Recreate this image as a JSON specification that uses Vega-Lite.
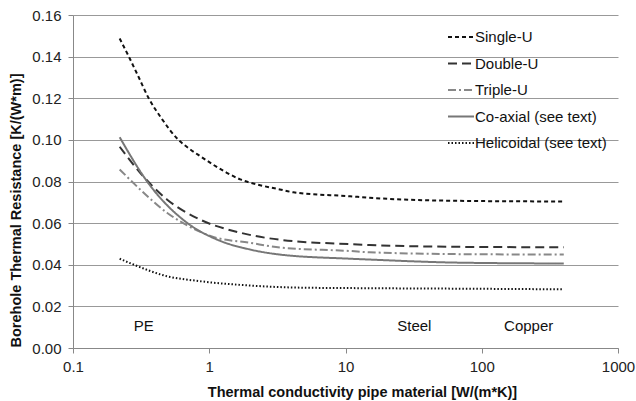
{
  "$schema": "https://vega.github.io/schema/vega-lite/v6.json",
  "width": 545,
  "height": 333,
  "autosize": {"type": "none"},
  "padding": {"left": 73, "top": 15, "right": 18, "bottom": 53},
  "background": "white",
  "config": {
    "view": {"stroke": null},
    "font": "Liberation Sans",
    "axis": {"labelFont": "Liberation Sans", "titleFont": "Liberation Sans", "labelFontSize": 15, "titleFontSize": 14.5, "labelColor": "#222", "titleColor": "#111", "domainColor": "#888", "tickColor": "#888", "gridColor": "#999", "tickSize": 5, "labelPadding": 6, "labelFlush": false}
  },
  "layer": [
    {
      "data": {"values": [
        {"series": "Single-U", "k": 0.22, "R": 0.1487},
        {"series": "Single-U", "k": 0.256, "R": 0.1402},
        {"series": "Single-U", "k": 0.3, "R": 0.1308},
        {"series": "Single-U", "k": 0.358, "R": 0.1202},
        {"series": "Single-U", "k": 0.45, "R": 0.1100},
        {"series": "Single-U", "k": 0.594, "R": 0.1000},
        {"series": "Single-U", "k": 0.726, "R": 0.0954},
        {"series": "Single-U", "k": 0.857, "R": 0.0922},
        {"series": "Single-U", "k": 1.346, "R": 0.0842},
        {"series": "Single-U", "k": 1.69, "R": 0.0810},
        {"series": "Single-U", "k": 2.23, "R": 0.0786},
        {"series": "Single-U", "k": 3.3, "R": 0.0762},
        {"series": "Single-U", "k": 4.14, "R": 0.0748},
        {"series": "Single-U", "k": 10.8, "R": 0.0729},
        {"series": "Single-U", "k": 15, "R": 0.0722},
        {"series": "Single-U", "k": 69, "R": 0.0707},
        {"series": "Single-U", "k": 400, "R": 0.0704},
        {"series": "Double-U", "k": 0.22, "R": 0.0967},
        {"series": "Double-U", "k": 0.311, "R": 0.0842},
        {"series": "Double-U", "k": 0.489, "R": 0.0714},
        {"series": "Double-U", "k": 0.857, "R": 0.0617},
        {"series": "Double-U", "k": 1.69, "R": 0.0554},
        {"series": "Double-U", "k": 3.3, "R": 0.0520},
        {"series": "Double-U", "k": 10.8, "R": 0.0499},
        {"series": "Double-U", "k": 15, "R": 0.0495},
        {"series": "Double-U", "k": 69, "R": 0.0486},
        {"series": "Double-U", "k": 400, "R": 0.0484},
        {"series": "Triple-U", "k": 0.22, "R": 0.0858},
        {"series": "Triple-U", "k": 0.33, "R": 0.0746},
        {"series": "Triple-U", "k": 0.489, "R": 0.0650},
        {"series": "Triple-U", "k": 0.61, "R": 0.0609},
        {"series": "Triple-U", "k": 1.07, "R": 0.0534},
        {"series": "Triple-U", "k": 2.0, "R": 0.0505},
        {"series": "Triple-U", "k": 3.3, "R": 0.0483},
        {"series": "Triple-U", "k": 10.8, "R": 0.0466},
        {"series": "Triple-U", "k": 15, "R": 0.0460},
        {"series": "Triple-U", "k": 69, "R": 0.0451},
        {"series": "Triple-U", "k": 400, "R": 0.0449},
        {"series": "Co-axial (see text)", "k": 0.22, "R": 0.1013},
        {"series": "Co-axial (see text)", "k": 0.35, "R": 0.0800},
        {"series": "Co-axial (see text)", "k": 0.686, "R": 0.0602},
        {"series": "Co-axial (see text)", "k": 1.14, "R": 0.0521},
        {"series": "Co-axial (see text)", "k": 2.0, "R": 0.0473},
        {"series": "Co-axial (see text)", "k": 3.3, "R": 0.0449},
        {"series": "Co-axial (see text)", "k": 10.8, "R": 0.0429},
        {"series": "Co-axial (see text)", "k": 15, "R": 0.0425},
        {"series": "Co-axial (see text)", "k": 69, "R": 0.0410},
        {"series": "Co-axial (see text)", "k": 400, "R": 0.0406},
        {"series": "Helicoidal (see text)", "k": 0.22, "R": 0.0429},
        {"series": "Helicoidal (see text)", "k": 0.278, "R": 0.0401},
        {"series": "Helicoidal (see text)", "k": 0.489, "R": 0.0345},
        {"series": "Helicoidal (see text)", "k": 0.857, "R": 0.0321},
        {"series": "Helicoidal (see text)", "k": 2.0, "R": 0.0300},
        {"series": "Helicoidal (see text)", "k": 4.6, "R": 0.0290},
        {"series": "Helicoidal (see text)", "k": 10, "R": 0.0288},
        {"series": "Helicoidal (see text)", "k": 69, "R": 0.0285},
        {"series": "Helicoidal (see text)", "k": 400, "R": 0.0282}
      ]},
      "mark": {"type": "line", "strokeWidth": 2, "interpolate": "monotone"},
      "encoding": {
        "x": {"field": "k", "type": "quantitative",
          "scale": {"type": "log", "domain": [0.1, 1000], "nice": false},
          "axis": {"values": [0.1, 1, 10, 100, 1000], "format": "~g", "grid": false, "title": "Thermal conductivity pipe material [W/(m*K)]", "titleX": 289, "titleY": 37}},
        "y": {"field": "R", "type": "quantitative",
          "scale": {"domain": [0, 0.16], "nice": false},
          "axis": {"values": [0, 0.02, 0.04, 0.06, 0.08, 0.1, 0.12, 0.14, 0.16], "format": ".2f", "grid": true, "labelPadding": 7, "title": "Borehole Thermal Resistance [K/(W*m)]", "titleX": -50, "titleY": 195}},
        "color": {"field": "series", "type": "nominal",
          "scale": {"domain": ["Single-U", "Double-U", "Triple-U", "Co-axial (see text)", "Helicoidal (see text)"], "range": ["#111111", "#333333", "#888888", "#777777", "#111111"]},
          "legend": {"title": null, "orient": "none", "legendX": 374, "legendY": 8, "padding": 0, "symbolType": "stroke", "symbolSize": 676, "symbolStrokeWidth": 2, "rowPadding": 4.5, "labelFontSize": 15, "labelFont": "Liberation Sans", "labelColor": "#111", "labelOffset": 0}},
        "strokeDash": {"field": "series", "type": "nominal",
          "scale": {"domain": ["Single-U", "Double-U", "Triple-U", "Co-axial (see text)", "Helicoidal (see text)"], "range": [[4, 3], [9, 5], [8, 3, 2, 3], [1, 0], [1.5, 2]]},
          "legend": {"title": null, "orient": "none", "legendX": 374, "legendY": 8, "padding": 0, "symbolType": "stroke", "symbolSize": 676, "symbolStrokeWidth": 2, "rowPadding": 4.5, "labelFontSize": 15, "labelFont": "Liberation Sans", "labelColor": "#111", "labelOffset": 0}}
      }
    },
    {
      "data": {"values": [
        {"label": "PE", "k": 0.33, "R": 0.0105},
        {"label": "Steel", "k": 32, "R": 0.0105},
        {"label": "Copper", "k": 221, "R": 0.0105}
      ]},
      "mark": {"type": "text", "fontSize": 15, "font": "Liberation Sans", "color": "#111", "align": "center", "baseline": "middle"},
      "encoding": {
        "x": {"field": "k", "type": "quantitative"},
        "y": {"field": "R", "type": "quantitative"},
        "text": {"field": "label"}
      }
    }
  ]
}
